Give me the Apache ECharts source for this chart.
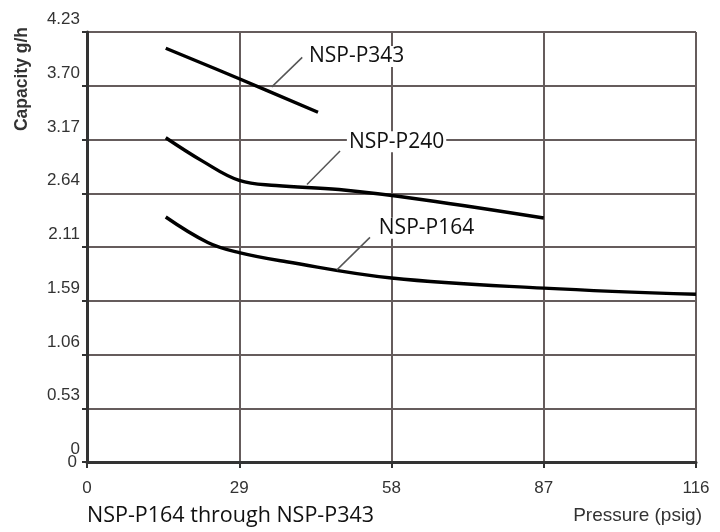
<!DOCTYPE html>
<html><head><meta charset="utf-8">
<script src="https://cdn.jsdelivr.net/npm/echarts@6/dist/echarts.min.js"></script>
<style>html,body{margin:0;padding:0;background:#fff}#c{width:720px;height:532px}</style>
</head><body><div id="c"></div>
<script>
const yTickLabels = ['0','0.53','1.06','1.59','2.11','2.64','3.17','3.70','4.23'];
const xTickLabels = ['0','29','58','87','116'];
const seriesNames = ['NSP-P343','NSP-P240','NSP-P164'];
const p343 = [[15,4.07],[29,3.77],[44,3.44]];
const p240 = [[15,3.19],[22,2.96],[29,2.77],[36,2.72],[48,2.68],[64,2.58],[87,2.40]];
const p164 = [[15,2.41],[23,2.16],[29,2.06],[38,1.97],[58,1.81],[87,1.71],[116,1.65]];
const subtitle = 'NSP-P164 through NSP-P343';
const xName = 'Pressure (psig)';
const yName = 'Capacity g/h';

const yMax = 4.23, yStep = yMax / 8;
const xMax = 116, xStep = 29;

const chart = echarts.init(document.getElementById('c'), null, {renderer:'canvas'});

const annFont = {fontFamily:'Open Sans', fontSize:21, color:'#111', backgroundColor:'#fff', padding:[0,2]};
function leader(a, b){
  return {symbol:['none','none'], silent:true, animation:false,
    lineStyle:{color:'#555', width:1.5, type:'solid'}, label:{show:false}, emphasis:{disabled:true},
    data:[[{coord:a},{coord:b}]]};
}
function tag(name, at){
  return {silent:true, animation:false, symbol:'circle', symbolSize:0,
    label:{show:true, position:'right', distance:0, formatter:name, ...annFont},
    data:[{coord:at}]};
}
function mkSeries(name, data, a, b, at){
  return {type:'line', name, data, smooth:0.4, showSymbol:false, symbol:'none',
    lineStyle:{color:'#000', width:3.4}, animation:false, z:3,
    markLine: leader(a,b), markPoint: tag(name, at)};
}

chart.setOption({
  animation:false,
  backgroundColor:'#fff',
  grid:{left:87, right:24, top:32, bottom:70, containLabel:false},
  title:[
    {text:subtitle, left:87, top:505, padding:0, textStyle:{fontFamily:'Open Sans', fontSize:21.5, fontWeight:'normal', color:'#111'}},
    {text:xName, right:18, top:506, padding:0, textStyle:{fontFamily:'Liberation Sans', fontSize:19, fontWeight:'normal', color:'#333'}}
  ],
  graphic:[{type:'text', x:22, y:79, rotation:Math.PI/2,
    style:{text:yName, font:'bold 17.5px "Liberation Sans"', fill:'#333', textAlign:'center', textVerticalAlign:'middle'}}],
  xAxis:{type:'value', min:0, max:xMax, interval:xStep,
    axisLine:{show:true, onZero:false, lineStyle:{color:'#333', width:3}},
    axisTick:{show:true, length:6, lineStyle:{color:'#333', width:2}},
    axisLabel:{margin:18, fontFamily:'Liberation Sans', fontSize:17, color:'#333',
      formatter:v=>xTickLabels[Math.round(v/xStep)]},
    splitLine:{show:true, lineStyle:{color:'#655c5c', width:2}}},
  yAxis:[{type:'value', min:0, max:yMax, interval:yStep,
    axisLine:{show:true, onZero:false, lineStyle:{color:'#333', width:3}},
    axisTick:{show:true, length:5, lineStyle:{color:'#333', width:2}},
    axisLabel:{margin:7, fontFamily:'Liberation Sans', fontSize:17, color:'#333', verticalAlign:'bottom', padding:[0,0,4,0],
      formatter:v=>yTickLabels[Math.round(v/yStep)]},
    splitLine:{show:true, lineStyle:{color:'#655c5c', width:2}}},
   {type:'value', min:0, max:yMax, interval:yMax, position:'left',
    axisLine:{show:false}, axisTick:{show:false}, splitLine:{show:false},
    axisLabel:{margin:10, fontFamily:'Liberation Sans', fontSize:17, color:'#333', verticalAlign:'middle',
      formatter:v=>(Math.abs(v)<1e-9 ? yTickLabels[0] : '')}}],
  series:[
    mkSeries(seriesNames[0], p343, [35.2,3.69], [41.0,3.98], [41.9,3.99]),
    mkSeries(seriesNames[1], p240, [41.9,2.73], [48.2,3.06], [49.5,3.15]),
    mkSeries(seriesNames[2], p164, [47.6,1.89], [53.9,2.21], [55.2,2.30])
  ]
});
</script></body></html>
